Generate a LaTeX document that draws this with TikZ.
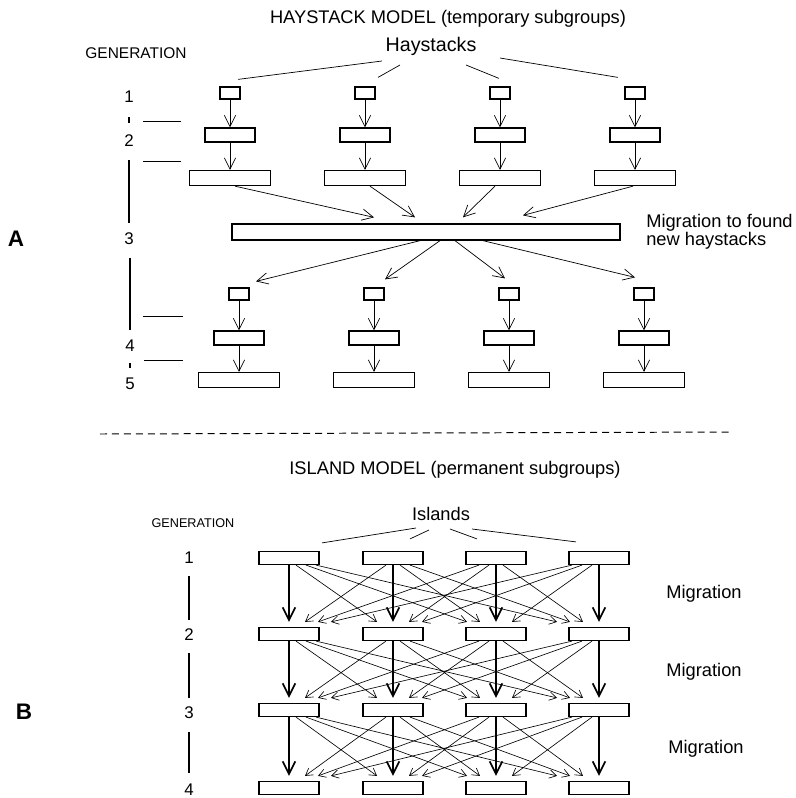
\documentclass[tikz,border=0pt]{standalone}
\usepackage{fontspec}
\setmainfont{Liberation Sans}
\usetikzlibrary{arrows.meta}

\newcommand{\fsz}[1]{\fontsize{#1}{#1}\selectfont}

\begin{document}
\begin{tikzpicture}
  [x=0.025cm, y=-0.025cm,
   box/.style={rectangle,draw=black,line width=0.9pt,inner sep=0pt},
   tiny/.style={box,minimum width=14.2pt,minimum height=8.5pt},
   mid/.style={box,minimum width=35.6pt,minimum height=10pt},
   wide/.style={box,minimum width=57.6pt,minimum height=10.7pt},
   island/.style={box,minimum width=42.7pt,minimum height=9.2pt},
   arrow/.style={-{Straight Barb[length=8pt,width=8pt]},line width=0.5pt},
   thin/.style={-{Straight Barb[length=5pt,width=6pt]},line width=0.45pt},
   heavy/.style={-{Straight Barb[length=9pt,width=9pt]},line width=1.2pt},
   gline/.style={line width=1pt},
   pointer/.style={line width=0.5pt},
   lbl/.style={inner sep=0pt,anchor=base,font=\fsz{13}},
   num/.style={inner sep=0pt,font=\fsz{12}},
   big/.style={inner sep=0pt,font=\fsz{16}\bfseries},
  ]
  \useasboundingbox (0,0) rectangle (796,798);

  % haystack model
  \node[lbl] (title1) at (448,23) {HAYSTACK MODEL (temporary subgroups)};
  \node[lbl,font=\fsz{11}] (gen1) at (136,58) {GENERATION};
  \node[lbl,font=\fsz{14}] (hay) at (431,51) {Haystacks};

  \foreach \x [count=\i] in {230,365,500,635}{
    \node[tiny] (a\i) at (\x,93) {};
    \node[mid] (b\i) at (\x,135) {};
    \node[wide] (c\i) at (\x,178) {};
    \draw[arrow] (a\i) -- (b\i);
    \draw[arrow] (b\i) -- (c\i);
  }
  \foreach \sx/\sy/\ex/\ey [count=\i] in {-49/10/8/-7, -31/14/13/-9, 35/14/-1/-8, 69/7/-17/-9}
    \draw[pointer] ([shift={(\sx,\sy)}]hay.base) -- ([shift={(\ex,\ey)}]a\i.north);

  \node[box,minimum width=276pt,minimum height=11.4pt] (mig) at (426,232) {};
  \node[inner sep=0pt,anchor=north west,align=left,font=\fontsize{13}{11.5}\selectfont] (migtxt)
    at (646,214) {Migration to found\\new haystacks};

  \foreach \sx/\ex/\ey [count=\i] in {5/-52/-6, 5/-11/-6, -5/37/-6, -2/97/-8}
    \draw[arrow] ([shift={(\sx,0)}]c\i.south) -- ([shift={(\ex,\ey)}]mig.north);

  \foreach \x [count=\i] in {239,374,509,644}{
    \node[tiny] (d\i) at (\x,294) {};
    \node[mid] (e\i) at (\x,338) {};
    \node[wide] (f\i) at (\x,380) {};
    \draw[arrow] (d\i) -- (e\i);
    \draw[arrow] (e\i) -- (f\i);
  }
  \foreach \sx/\ex/\ey [count=\i] in {-6/17/-6, 14/11/-8, 29/-4/-9, 57/-9/-10}
    \draw[arrow] ([shift={(\sx,0)}]mig.south) -- ([shift={(\ex,\ey)}]d\i.north);

  \node[num] (ha1) at (129,97) {1};
  \node[num] (ha2) at (129,141) {2};
  \node[num] (ha3) at (129,239) {3};
  \node[num] (ha4) at (130,346) {4};
  \node[num] (ha5) at (130,384) {5};
  \draw[gline] (129,117) -- (129,123);
  \draw[gline] (129,160) -- (129,223);
  \draw[gline] (130,258) -- (130,330);
  \draw[gline] (130,363) -- (130,368);
  \draw[pointer] (143,121) -- (181,121);
  \draw[pointer] (143,161) -- (181,161);
  \draw[pointer] (143,316) -- (183,316);
  \draw[pointer] (144,360) -- (183,360);
  \node[big] (partA) at (16,239) {A};

  \draw[line width=0.7pt,dash pattern=on 5pt off 3.5pt] (100,434) -- (733,432);

  % island model
  \node[lbl] (title2) at (455,474) {ISLAND MODEL (permanent subgroups)};
  \node[lbl,font=\fsz{9}] (gen2) at (193,527) {GENERATION};
  \node[lbl] (isl) at (441,520) {Islands};

  \foreach \y [count=\r] in {558,634,710,788}
    \foreach \x [count=\i] in {289,393,496,599}
      \node[island] (n\r\i) at (\x,\y) {};

  \foreach \sx/\sy/\ex/\ey [count=\i] in {-25/8/33/-8, -12/10/17/-12, 9/9/-19/-12, 31/9/-23/-9}
    \draw[pointer] ([shift={(\sx,\sy)}]isl.base) -- ([shift={(\ex,\ey)}]n1\i.north);

  \foreach \r [evaluate=\r as \rn using int(\r+1)] in {1,2,3}{
    \foreach \i in {1,...,4}{
      \draw[heavy] (n\r\i.south) -- ([shift={(0,-5)}]n\rn\i.north);
      \foreach \j in {1,...,4}{
        \ifnum\i=\j\else
          \pgfmathsetmacro{\sofs}{10*(\j-\i)-3*sign(\j-\i)}
          \pgfmathsetmacro{\tofs}{13*(\i-\j)+3*sign(\i-\j)}
          \draw[thin] ([shift={(\sofs,0)}]n\r\i.south) -- ([shift={(\tofs,-5)}]n\rn\j.north);
        \fi
      }
    }
  }

  \node[num] (is1) at (189,558) {1};
  \node[num] (is2) at (189,635) {2};
  \node[num] (is3) at (189,713) {3};
  \node[num] (is4) at (189,790) {4};
  \draw[gline] (189,576) -- (189,620);
  \draw[gline] (189,653) -- (189,698);
  \draw[gline] (189,732) -- (189,773);
  \node[big] (partB) at (24,712) {B};

  \node[lbl] (m1) at (704,598) {Migration};
  \node[lbl] (m2) at (704,676) {Migration};
  \node[lbl] (m3) at (706,753) {Migration};
\end{tikzpicture}
\end{document}
